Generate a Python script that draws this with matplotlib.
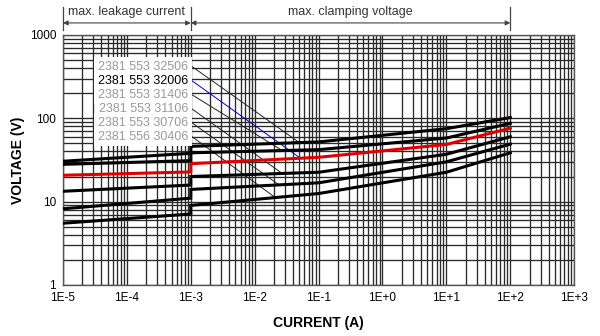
import matplotlib.pyplot as plt
import matplotlib.transforms as mtransforms
import numpy as np

plt.rcParams['font.family'] = ['Liberation Sans', 'DejaVu Sans']

# Current nodes (A); 1E-3 appears twice for the step between the two regions
current = [1e-5, 1e-3, 1e-3, 1e-1, 1e1, 1e2]

# Voltage (V) per varistor type
v_32506 = [30.5, 38.0, 46.0, 52.0, 75.0, 102.0]
v_31406 = [28.0, 31.0, 38.5, 42.0, 58.0, 87.0]
v_32006 = [20.7, 22.7, 28.5, 34.0, 48.5, 76.0]
v_31106 = [13.3, 15.8, 20.0, 22.5, 37.0, 60.0]
v_30706 = [8.2, 11.0, 14.0, 16.8, 30.0, 49.0]
v_30406 = [5.5, 7.1, 9.0, 12.5, 22.5, 38.5]

labels = ['2381 553 32506', '2381 553 32006', '2381 553 31406',
          '2381 553 31106', '2381 553 30706', '2381 556 30406']
curves = [v_32506, v_32006, v_31406, v_31106, v_30706, v_30406]
# current where each leader line meets its curve
leader_end = [0.05, 0.052, 0.027, 0.027, 0.024, 0.021]

xticks = [1e-5, 1e-4, 1e-3, 1e-2, 1e-1, 1e0, 1e1, 1e2, 1e3]
xticklabels = ['1E-5', '1E-4', '1E-3', '1E-2', '1E-1', '1E+0', '1E+1', '1E+2', '1E+3']
yticks = [1, 10, 100, 1000]
yticklabels = ['1', '10', '100', '1000']

fig = plt.figure(figsize=(6, 3.36), dpi=100)
ax = fig.add_axes([0.105, 0.152, 0.852, 0.744])
ax.set_xscale('log')
ax.set_yscale('log')
ax.set_xlim(1e-5, 1e3)
ax.set_ylim(1, 1000)

ax.grid(True, which='both', color='#2a2a2a', linewidth=0.95)
ax.set_axisbelow(True)
for s in ax.spines.values():
    s.set_color('#555555')
    s.set_linewidth(1.0)

ax.set_xticks(xticks)
ax.set_xticklabels(xticklabels)
ax.set_yticks(yticks)
ax.set_yticklabels(yticklabels)
ax.tick_params(which='both', length=0, labelsize=8.5)
ax.tick_params(axis='x', pad=5)
ax.tick_params(axis='y', pad=5)

for v in curves:
    color = '#e00000' if v is v_32006 else 'black'
    ax.plot(current, v, color=color, linewidth=2.2, solid_joinstyle='miter', zorder=4)

# type labels with leader lines
label_y = [417, 281, 191, 129, 88, 60]
for name, v, yl, xe in zip(labels, curves, label_y, leader_end):
    is_sel = v is v_32006
    ax.text(9.0e-4, yl, name, ha='right', va='center', fontsize=9,
            color='black' if is_sel else '#9a9a9a', zorder=5,
            bbox=dict(facecolor='white', edgecolor='none', pad=2.6))
    ye = 10 ** np.interp(np.log10(xe), np.log10(current[2:]), np.log10(v[2:]))
    ax.plot([1.05e-3, xe], [yl, ye], color='#0000cc' if is_sel else '#222222',
            linewidth=0.7, zorder=3)

ax.set_xlabel('CURRENT (A)', fontsize=10, fontweight='bold', labelpad=9)
ax.set_ylabel('VOLTAGE (V)', fontsize=10, fontweight='bold', labelpad=3)

# region markers above the plot
trans = mtransforms.blended_transform_factory(ax.transData, ax.transAxes)
for xv in [1e-5, 1e-3, 1e2]:
    ax.plot([xv, xv], [1.02, 1.112], transform=trans, color='#444444',
            linewidth=0.9, clip_on=False)
for x0, x1, txt in [(1e-5, 1e-3, 'max. leakage current'),
                    (1e-3, 1e2, 'max. clamping voltage')]:
    ax.annotate('', xy=(x0, 1.048), xytext=(x1, 1.048), xycoords=trans,
                textcoords=trans,
                arrowprops=dict(arrowstyle='<|-|>', color='#444444', lw=0.8,
                                mutation_scale=7, shrinkA=0, shrinkB=0))
    ax.text(np.sqrt(x0 * x1), 1.09, txt, transform=trans, ha='center',
            va='center', fontsize=9, color='#333333')

fig.savefig('out.png', dpi=100, facecolor='white')
